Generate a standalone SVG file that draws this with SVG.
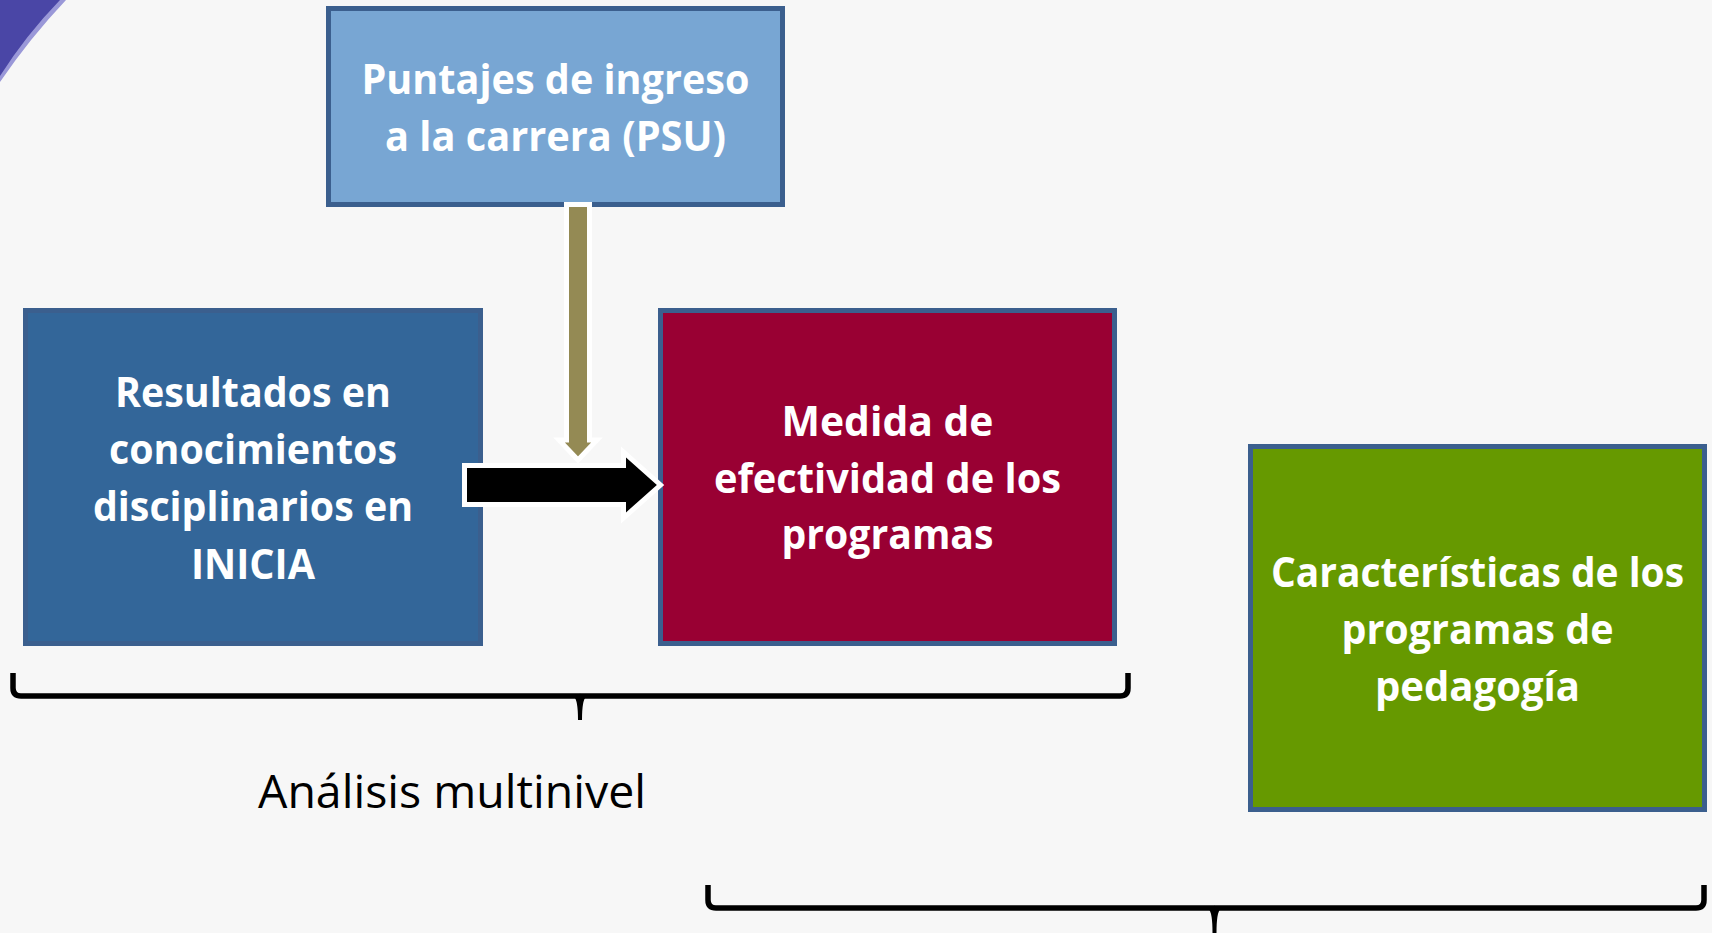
<svg xmlns="http://www.w3.org/2000/svg" width="1712" height="933" viewBox="0 0 1712 933">
<style>
.box{stroke:#3b5f8e;stroke-width:5}
.t{font-family:"Open Sans","Liberation Sans",sans-serif;font-weight:bold;font-size:40.5px;fill:#ffffff;text-anchor:middle}
.lbl{font-family:"Open Sans","Liberation Sans",sans-serif;font-size:46px;fill:#000000}
.brace{fill:none;stroke:#000;stroke-width:5.5;stroke-linejoin:round}
.tip{fill:#000;stroke:none}
</style>
<rect width="1712" height="933" fill="#f7f7f7"/>
<path d="M0,0 L66,0 Q30,38 0,82 Z" fill="#9a98d8"/>
<path d="M0,0 L60,0 Q26,35 0,76 Z" fill="#4a46a6"/>

<g id="node-psu">
<rect class="box" x="328.5" y="8.5" width="454" height="196" fill="#78a6d3"/>
<text class="t" x="555.5" y="94" textLength="388" lengthAdjust="spacingAndGlyphs">Puntajes de ingreso</text>
<text class="t" x="555.5" y="151" textLength="341" lengthAdjust="spacingAndGlyphs">a la carrera (PSU)</text>
</g>

<g id="node-inicia">
<rect class="box" x="25.5" y="310.5" width="455" height="333" fill="#336699"/>
<text class="t" x="253" y="407" textLength="276" lengthAdjust="spacingAndGlyphs">Resultados en</text>
<text class="t" x="253" y="464" textLength="288" lengthAdjust="spacingAndGlyphs">conocimientos</text>
<text class="t" x="253" y="521" textLength="320" lengthAdjust="spacingAndGlyphs">disciplinarios en</text>
<text class="t" x="253" y="579" textLength="124" lengthAdjust="spacingAndGlyphs">INICIA</text>
</g>

<g id="node-medida">
<rect class="box" x="660.5" y="310.5" width="454" height="333" fill="#990033"/>
<text class="t" x="887.5" y="436" textLength="212" lengthAdjust="spacingAndGlyphs">Medida de</text>
<text class="t" x="887.5" y="493" textLength="347" lengthAdjust="spacingAndGlyphs">efectividad de los</text>
<text class="t" x="887.5" y="549" textLength="212" lengthAdjust="spacingAndGlyphs">programas</text>
</g>

<g id="node-caracteristicas">
<rect class="box" x="1250.5" y="446.5" width="454" height="363" fill="#669900"/>
<text class="t" x="1477.5" y="587" textLength="413" lengthAdjust="spacingAndGlyphs">Características de los</text>
<text class="t" x="1477.5" y="644" textLength="272" lengthAdjust="spacingAndGlyphs">programas de</text>
<text class="t" x="1477.5" y="701" textLength="205" lengthAdjust="spacingAndGlyphs">pedagogía</text>
</g>

<g id="connectors">
<path d="M464.5,465.5 L623.5,465.5 L623.5,452 L660.5,485 L623.5,518 L623.5,504.5 L464.5,504.5 Z" fill="#000" stroke="#fff" stroke-width="5"/>
<path d="M566.5,204.5 L589.5,204.5 L589.5,440 L597,440 L578,460 L559,440 L566.5,440 Z" fill="#948a54" stroke="#fff" stroke-width="5"/>
</g>

<g id="brace-multinivel">
<path class="brace" d="M13,673 L13,688 Q13,696 21,696 L1120,696 Q1128,696 1128,688 L1128,673"/>
<path class="tip" d="M574,697 Q580,698 580,693 Q580,698 586,697 Q582,700 582,720 L578,720 Q578,700 574,697 Z"/>
<text class="lbl" x="452" y="808" text-anchor="middle" textLength="388" lengthAdjust="spacingAndGlyphs">Análisis multinivel</text>
</g>

<g id="brace-bottom">
<path class="brace" d="M708,885 L708,900 Q708,908 716,908 L1696,908 Q1704,908 1704,900 L1704,885"/>
<path class="tip" d="M1208.5,909 Q1214.5,910 1214.5,905 Q1214.5,910 1220.5,909 Q1216.5,912 1216.5,933 L1212.5,933 Q1212.5,912 1208.5,909 Z"/>
</g>
</svg>
